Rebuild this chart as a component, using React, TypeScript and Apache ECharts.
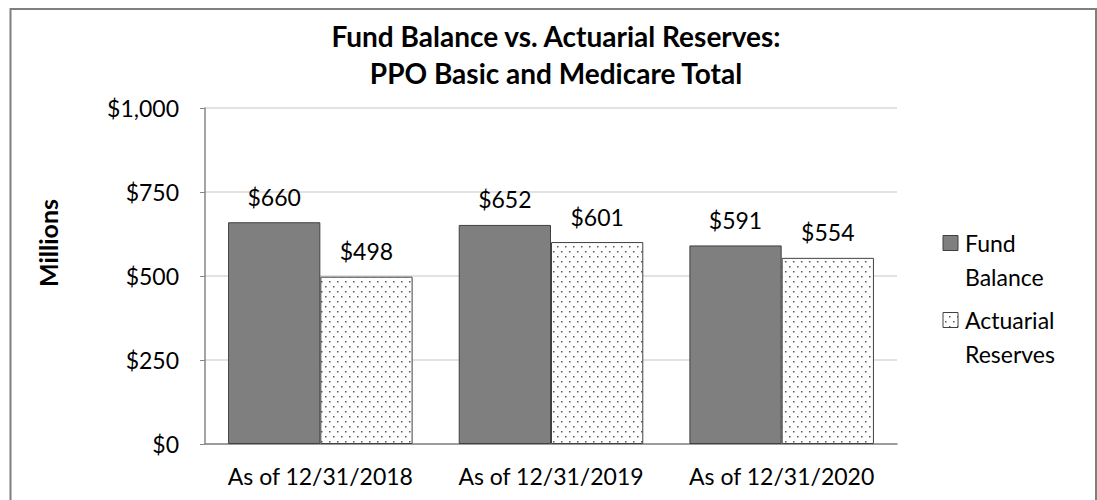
import React, { useEffect, useRef } from "react";
import * as echarts from "echarts";

const categories = ["As of 12/31/2018", "As of 12/31/2019", "As of 12/31/2020"];
const fundBalance = [660, 652, 591];
const actuarialReserves = [498, 601, 554];
const seriesNames = ["Fund Balance", "Actuarial Reserves"];
const legendLabels = ["Fund\nBalance", "Actuarial\nReserves"];
const yTicks = [0, 250, 500, 750, 1000];
const titleLines = ["Fund Balance vs. Actuarial Reserves:", "PPO Basic and Medicare Total"];
const yAxisTitle = "Millions";

const FONT = "Lato, 'Noto Sans', sans-serif";

function makeDotCanvas(): HTMLCanvasElement {
  const c = document.createElement("canvas");
  c.width = 8;
  c.height = 10;
  const ctx = c.getContext("2d")!;
  ctx.fillStyle = "#ffffff";
  ctx.fillRect(0, 0, 8, 10);
  ctx.fillStyle = "#5a5a5a";
  ctx.fillRect(1, 1, 1.5, 1.5);
  ctx.fillRect(5, 6, 1.5, 1.5);
  return c;
}

function fmt(v: number): string {
  return "$" + v.toLocaleString("en-US");
}

export default function App() {
  const ref = useRef<HTMLDivElement>(null);
  useEffect(() => {
    if (!ref.current) return;
    const chart = echarts.init(ref.current, undefined, { renderer: "svg" });
    const dot = makeDotCanvas();
    const pattern: any = { image: dot, repeat: "repeat" };
    const labelStyle = {
      show: true,
      position: "top" as const,
      distance: 14,
      fontFamily: FONT,
      fontSize: 23,
      color: "#000",
      formatter: (p: any) => fmt(p.value),
    };
    const legendText = (i: number, y: number) => ({
      type: "text",
      x: 965,
      y,
      style: {
        text: legendLabels[i],
        fontFamily: FONT,
        fontSize: 23,
        lineHeight: 34,
        fill: "#000",
        align: "left",
        verticalAlign: "top",
        padding: [-17, 0, 0, 0],
      },
    });
    chart.setOption({
      animation: false,
      backgroundColor: "#fff",
      grid: { left: 205, right: 200, top: 108, bottom: 56, containLabel: false },
      xAxis: {
        type: "category",
        data: categories,
        axisLine: { show: true, lineStyle: { color: "#868686", width: 1.5 } },
        axisTick: { show: false },
        axisLabel: {
          interval: 0,
          hideOverlap: false,
          fontFamily: FONT,
          fontSize: 23,
          color: "#000",
          margin: 20,
        },
      },
      yAxis: {
        type: "value",
        min: yTicks[0],
        max: yTicks[yTicks.length - 1],
        interval: 250,
        axisLine: { show: true, lineStyle: { color: "#868686", width: 1.5 } },
        axisTick: { show: true, length: 5, lineStyle: { color: "#868686" } },
        splitLine: { show: true, lineStyle: { color: "#d9d9d9", width: 1.5 } },
        axisLabel: {
          fontFamily: FONT,
          fontSize: 23,
          color: "#000",
          margin: 26,
          formatter: (v: number) => fmt(v),
        },
      },
      series: [
        {
          name: seriesNames[0],
          type: "bar",
          data: fundBalance,
          barGap: "0%",
          barCategoryGap: "20%",
          itemStyle: { color: "#7f7f7f", borderColor: "#404040", borderWidth: 1 },
          label: labelStyle,
        },
        {
          name: seriesNames[1],
          type: "bar",
          data: actuarialReserves,
          itemStyle: { color: pattern, borderColor: "#404040", borderWidth: 1 },
          label: labelStyle,
        },
      ],
      graphic: [
        {
          type: "rect",
          shape: { x: 10.5, y: 9, width: 1085.5, height: 600 },
          style: { fill: "none", stroke: "#7f7f7f", lineWidth: 2 },
          silent: true,
          z: 0,
        },
        {
          type: "text",
          x: 556,
          y: 17.5,
          style: {
            text: titleLines.join("\n"),
            fontFamily: FONT,
            fontSize: 28,
            fontWeight: "bold",
            lineHeight: 37,
            fill: "#000",
            align: "center",
            verticalAlign: "top",
          },
        },
        {
          type: "text",
          x: 48,
          y: 243,
          rotation: Math.PI / 2,
          style: {
            text: yAxisTitle,
            fontFamily: FONT,
            fontSize: 25,
            fontWeight: "bold",
            fill: "#000",
            align: "center",
            verticalAlign: "middle",
          },
        },
        {
          type: "rect",
          shape: { x: 943, y: 235.5, width: 15, height: 15 },
          style: { fill: "#7f7f7f", stroke: "#404040", lineWidth: 1 },
        },
        legendText(0, 243),
        {
          type: "rect",
          shape: { x: 943, y: 312.5, width: 15, height: 15 },
          style: { fill: pattern, stroke: "#404040", lineWidth: 1 },
        },
        legendText(1, 320),
      ],
    });
    return () => chart.dispose();
  }, []);
  return (
    <div
      ref={ref}
      style={{ position: "fixed", left: 0, top: 0, width: 1097, height: 500 }}
    />
  );
}
